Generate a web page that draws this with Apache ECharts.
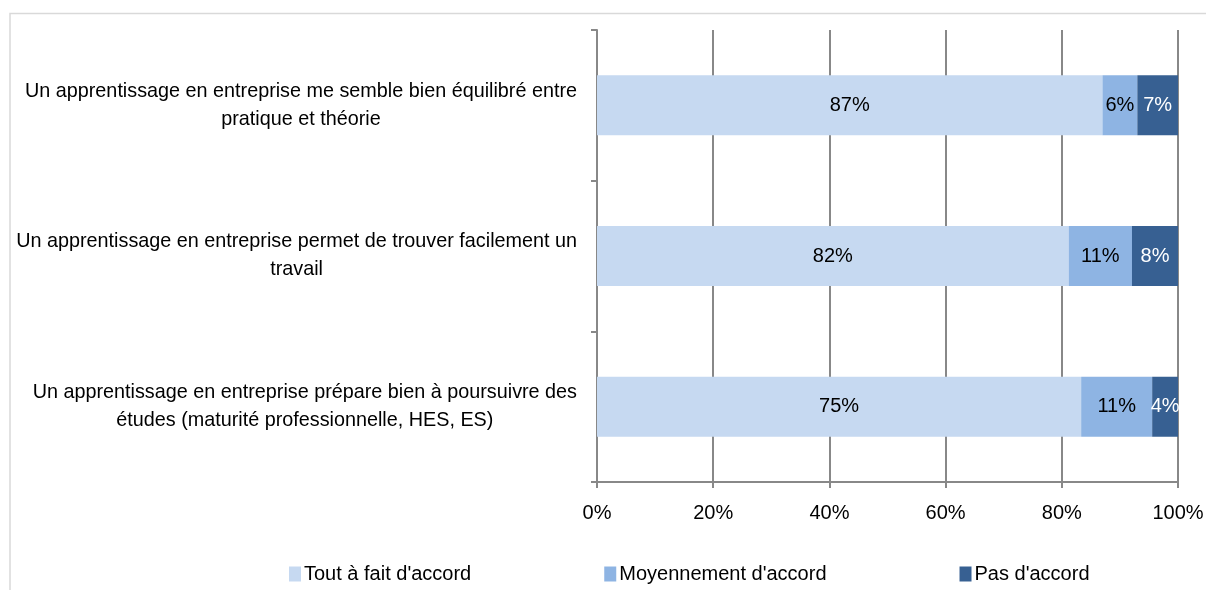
<!DOCTYPE html>
<html>
<head>
<meta charset="utf-8">
<script src="https://cdn.jsdelivr.net/npm/echarts@6/dist/echarts.min.js"></script>
<style>
  html, body { margin: 0; padding: 0; background: #fff; }
  #main { width: 1206px; height: 590px; }
</style>
</head>
<body>
<div id="main"></div>
<script>
var categories = [
  "Un apprentissage en entreprise me semble bien équilibré entre\npratique et théorie",
  "Un apprentissage en entreprise permet de trouver facilement un\ntravail",
  "Un apprentissage en entreprise prépare bien à poursuivre des\nétudes (maturité professionnelle, HES, ES)"
];
var seriesNames = ["Tout à fait d'accord", "Moyennement d'accord", "Pas d'accord"];
var toutAFait = [87, 82, 75];
var moyennement = [6, 11, 11];
var pasDAccord = [7, 8, 4];
var xTicks = [0, 20, 40, 60, 80, 100];

var colors = ['#C6D9F1', '#8EB4E3', '#376092'];
var labelColors = ['#000', '#000', '#fff'];
var FONT = "'Liberation Sans', Arial, sans-serif";

var raw = [toutAFait, moyennement, pasDAccord];
// bars are drawn as share of the row total (100% stacked), labels keep the raw value
var totals = categories.map(function (c, i) {
  return toutAFait[i] + moyennement[i] + pasDAccord[i];
});

var chart = echarts.init(document.getElementById('main'));

var series = raw.map(function (vals, s) {
  return {
    name: seriesNames[s],
    type: 'bar',
    stack: 'total',
    barWidth: 60,
    itemStyle: { color: colors[s] },
    label: {
      show: true,
      position: 'inside',
      color: labelColors[s],
      fontFamily: FONT,
      fontSize: 20,
      formatter: function (p) { return vals[p.dataIndex] + '%'; }
    },
    data: vals.map(function (v, i) { return v / totals[i] * 100; })
  };
});

var option = {
  animation: false,
  graphic: [{
    type: 'rect',
    shape: { x: 10, y: 13.5, width: 1300, height: 700 },
    style: { fill: 'none', stroke: '#d9d9d9', lineWidth: 1.5 },
    silent: true
  }],
  grid: { left: 597, right: 28, top: 30, bottom: 108, outerBoundsMode: 'none', containLabel: false },
  legend: {
    left: 284,
    top: 559,
    itemWidth: 12,
    itemHeight: 15,
    itemGap: 133,
    icon: 'rect',
    textStyle: { fontFamily: FONT, fontSize: 20, color: '#000', padding: [0, 0, 0, -2] },
    data: seriesNames
  },
  xAxis: {
    type: 'value',
    min: xTicks[0],
    max: xTicks[xTicks.length - 1],
    interval: 20,
    axisLine: { show: true, lineStyle: { color: '#888', width: 2 } },
    axisTick: { show: true, length: 6, lineStyle: { color: '#888', width: 2 } },
    splitLine: { show: true, lineStyle: { color: '#888', width: 2 } },
    axisLabel: {
      margin: 21,
      color: '#000',
      fontFamily: FONT,
      fontSize: 20,
      formatter: '{value}%'
    }
  },
  yAxis: {
    type: 'category',
    inverse: true,
    data: categories,
    axisLine: { show: true, lineStyle: { color: '#888', width: 2 } },
    axisTick: { show: true, length: 6, lineStyle: { color: '#888', width: 2 } },
    axisLabel: {
      margin: 20,
      color: '#000',
      formatter: function (v) {
        return v.split('\n').map(function (l) { return '{c|' + l + '}'; }).join('\n');
      },
      rich: {
        c: { align: 'center', fontFamily: FONT, fontSize: 19.8, lineHeight: 28, color: '#000' }
      }
    }
  },
  series: series
};

chart.setOption(option);
</script>
</body>
</html>
